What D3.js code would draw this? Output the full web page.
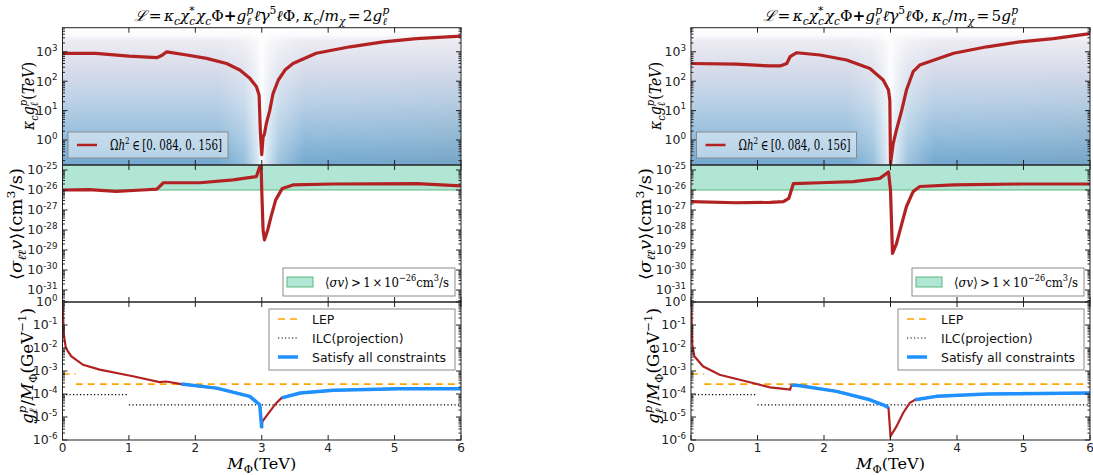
<!DOCTYPE html>
<html><head><meta charset="utf-8">
<script src="https://cdn.jsdelivr.net/npm/d3@7"></script>
<style>body{margin:0;background:#fff}svg{display:block}</style>
</head><body>
<svg id="chart" width="1093" height="475"></svg>
<script>
// ---------------- DATA ----------------
const xTicks = [0, 1, 2, 3, 4, 5, 6];
const topTickExp = [0, 1, 2, 3];
const midTickExp = [-25, -26, -27, -28, -29, -30, -31];
const botTickExp = [0, -1, -2, -3, -4, -5, -6];
const titles = ["2", "5"]; // kappa_c / m_chi = N g_l^p

// Left column (kappa_c/m_chi = 2 g)  [M_Phi (TeV), value]
const relicCouplingL = [[0,890],[0.5,890],[1.0,710],[1.42,630],[1.5,760],[1.57,1000],[1.87,780],[2.17,600],[2.47,400],[2.67,240],[2.82,126],[2.92,65],[2.96,34],[2.98,1.7],[3.0,0.32],[3.02,1.26],[3.04,1.6],[3.07,3.7],[3.12,10],[3.17,38],[3.25,110],[3.35,240],[3.47,400],[3.82,890],[4.33,1480],[4.83,2190],[5.33,2820],[6.0,3390]];
const sigmaVL = [[0,1.0e-26],[0.4,1.05e-26],[0.81,0.85e-26],[1.2,1.0e-26],[1.42,1.1e-26],[1.52,2.3e-26],[2.07,2.3e-26],[2.57,3.2e-26],[2.92,4.7e-26],[2.97,1.5e-25],[2.99,1.9e-25],[3.0,1e-26],[3.02,1e-28],[3.04,3.2e-29],[3.09,1e-28],[3.14,4.7e-28],[3.21,3.2e-27],[3.31,1.2e-26],[3.47,1.8e-26],[4.07,2.0e-26],[5.33,2.1e-26],[6.0,1.6e-26]];
const gOverML = [[0.002,0.95],[0.01,0.2],[0.02,0.038],[0.05,0.01],[0.13,4.4e-3],[0.31,1.86e-3],[0.56,1.15e-3],[1.06,5.9e-4],[1.46,3.3e-4],[1.56,3.5e-4],[1.79,2.7e-4],[2.32,1.8e-4],[2.82,7.9e-5],[2.97,3.4e-5],[3.0,3.3e-6],[3.01,6.5e-6],[3.12,1.7e-5],[3.22,4.1e-5],[3.3,6.8e-5],[3.58,1.1e-4],[4.08,1.45e-4],[5.08,1.7e-4],[6.0,1.7e-4]];
const allowedRangesL = [[1.79,3.0],[3.3,6.0]];

// Right column (kappa_c/m_chi = 5 g)
const relicCouplingR = [[0,400],[0.68,380],[1.19,330],[1.34,330],[1.44,400],[1.49,680],[1.59,930],[1.94,780],[2.34,525],[2.69,270],[2.89,110],[2.97,50],[2.99,22],[3.0,0.15],[3.04,0.76],[3.09,2.2],[3.17,10.5],[3.24,50],[3.34,210],[3.44,355],[3.95,890],[4.45,1480],[4.95,2190],[5.45,2820],[6.0,4170]];
const sigmaVR = [[0,2.6e-27],[0.68,2.3e-27],[1.19,2.4e-27],[1.39,2.6e-27],[1.47,3.8e-27],[1.54,2.1e-26],[1.94,2.3e-26],[2.44,2.6e-26],[2.84,3.8e-26],[2.97,8e-26],[3.0,1e-26],[3.03,6.8e-30],[3.09,2.1e-29],[3.17,2.1e-28],[3.24,1.5e-27],[3.34,8.3e-27],[3.44,1.5e-26],[3.95,1.8e-26],[4.95,2.0e-26],[6.0,2.0e-26]];
const gOverMR = [[0.002,0.95],[0.01,0.15],[0.02,0.014],[0.05,4.4e-3],[0.18,1.6e-3],[0.43,6.9e-4],[0.93,3.0e-4],[1.19,1.95e-4],[1.49,1.55e-4],[1.51,2.4e-4],[1.59,2.4e-4],[2.19,1.3e-4],[2.69,5.6e-5],[2.89,3.4e-5],[2.97,2.5e-5],[3.0,1.45e-6],[3.09,3.9e-6],[3.19,1.5e-5],[3.29,4.1e-5],[3.37,5.6e-5],[3.69,7.9e-5],[4.45,1.0e-4],[6.0,1.1e-4]];
const allowedRangesR = [[1.51,2.97],[3.37,6.0]];

// Bounds [from M, to M, value]
const lepBound = [[0,0.2,7.4e-4],[0.2,6,2.7e-4]];
const ilcBound = [[0,1,9.3e-5],[1,6,3.4e-5]];
const sigmaThreshold = 1e-26;

// ---------------- DRAW ----------------
const SERIF = "'DejaVu Serif','Liberation Serif',serif";
const SANS = "'DejaVu Sans',sans-serif";
const svg = d3.select("#chart");
const defs = svg.append("defs");

function mathText(parent, parts, o) {
  const size = o.size, fam = o.family || SERIF;
  const outer = parent.append("g");
  const g = outer.append("g");
  let cx = 0, stackW = null;
  parts.forEach(p => {
    if (typeof p === "number") { cx += p * size; return; }
    const [t, k = ""] = p;
    const sub = k.includes("_"), sup = k.includes("^");
    const fs = (sub || sup) ? size * 0.7 : size;
    const dy = sub ? size * 0.24 : sup ? -size * 0.44 : 0;
    const el = g.append("text").attr("x", cx).attr("y", dy)
      .attr("font-size", fs).attr("font-family", k.includes("f") ? SANS : fam)
      .attr("font-style", k.includes("i") ? "italic" : "normal")
      .attr("font-weight", k.includes("b") ? "bold" : "normal")
      .attr("fill", o.fill || "#000").text(t);
    const w = el.node().getComputedTextLength();
    if (k.includes("&")) { stackW = w; }
    else { cx += (stackW !== null ? Math.max(w, stackW) : w); stackW = null; }
  });
  const anchor = o.anchor || "middle";
  const sx = o.fitW ? o.fitW / cx : 1;
  const tw = cx * sx;
  const shift = anchor === "middle" ? -tw / 2 : anchor === "end" ? -tw : 0;
  g.attr("transform", `translate(${shift},0) scale(${sx},1)`);
  outer.attr("transform", `translate(${o.x},${o.y}) rotate(${o.rotate || 0})`);
  return tw;
}

// gradients
const gv = defs.append("linearGradient").attr("id", "bgV").attr("x1", 0).attr("y1", 0).attr("x2", 0).attr("y2", 1);
[[0,"#ffffff"],[0.05,"#fcfbfd"],[0.1,"#ecebf3"],[0.3,"#d8dcea"],[0.55,"#b9d0e6"],[0.8,"#93bddc"],[1,"#72a8d0"]]
  .forEach(([o,c]) => gv.append("stop").attr("offset", o).attr("stop-color", c));
const gs = defs.append("linearGradient").attr("id", "bgS").attr("x1", 0).attr("y1", 0).attr("x2", 1).attr("y2", 0);
[[0,0],[0.3,0.25],[0.45,0.7],[0.5,0.97],[0.56,0.7],[0.7,0.3],[1,0]]
  .forEach(([o,a]) => gs.append("stop").attr("offset", o).attr("stop-color", "#fff").attr("stop-opacity", a));
const gd = defs.append("linearGradient").attr("id", "bgD").attr("x1", 0).attr("y1", 0).attr("x2", 1).attr("y2", 0);
[[0,0],[0.5,0.06],[1,0.2]].forEach(([o,a]) => gd.append("stop").attr("offset", o).attr("stop-color", "#8a98a6").attr("stop-opacity", a));
const gd2 = defs.append("linearGradient").attr("id", "bgD2").attr("x1", 0).attr("y1", 0).attr("x2", 0).attr("y2", 1);
[[0,0],[0.3,0],[1,1]].forEach(([o,a]) => gd2.append("stop").attr("offset", o).attr("stop-color", "#fff").attr("stop-opacity", a));
const mk = defs.append("mask").attr("id", "maskD").attr("maskContentUnits", "objectBoundingBox");
mk.append("rect").attr("width", 1).attr("height", 1).attr("fill", "url(#bgD2)");

const PY = { top: [27.7, 165], mid: [165, 302], bot: [302, 440] };

const cols = [
  { x0: 62.5, x1: 461, relic: relicCouplingL, sig: sigmaVL, gm: gOverML, ranges: allowedRangesL, title: titles[0], labX: [34, 22, 33] },
  { x0: 691, x1: 1090, relic: relicCouplingR, sig: sigmaVR, gm: gOverMR, ranges: allowedRangesR, title: titles[1], labX: [661, 651, 659] }
];

cols.forEach((c, ci) => {
  const x = d3.scaleLinear().domain([0, 6]).range([c.x0, c.x1]);
  const yTop = d3.scaleLog().domain([10 ** -0.85, 10 ** 3.82]).range([PY.top[1], PY.top[0]]);
  const yMid = d3.scaleLog().domain([10 ** -31.6, 10 ** -24.75]).range([PY.mid[1], PY.mid[0]]);
  const yBot = d3.scaleLog().domain([1e-6, 1]).range([PY.bot[1], PY.bot[0]]);
  const W = c.x1 - c.x0;

  ["top", "mid", "bot"].forEach(k => {
    defs.append("clipPath").attr("id", `clip${ci}${k}`).append("rect")
      .attr("x", c.x0).attr("y", PY[k][0]).attr("width", W).attr("height", PY[k][1] - PY[k][0]);
  });

  // ---- top panel background (relic density map) ----
  const gT = svg.append("g").attr("clip-path", `url(#clip${ci}top)`);
  gT.append("rect").attr("x", c.x0).attr("y", PY.top[0]).attr("width", W).attr("height", PY.top[1] - PY.top[0]).attr("fill", "url(#bgV)");
  gT.append("rect").attr("x", x(3.3)).attr("y", PY.top[0]).attr("width", x(6) - x(3.3)).attr("height", PY.top[1] - PY.top[0]).attr("fill", "url(#bgD)").attr("mask", "url(#maskD)");
  gT.append("rect").attr("x", x(2.35)).attr("y", PY.top[0]).attr("width", x(3.65) - x(2.35)).attr("height", PY.top[1] - PY.top[0]).attr("fill", "url(#bgS)");

  const lineTop = d3.line().x(d => x(d[0])).y(d => yTop(d[1]));
  gT.append("path").datum(c.relic).attr("d", lineTop).attr("fill", "none").attr("stroke", "#b22222").attr("stroke-width", 3.2).attr("stroke-linejoin", "round");

  // ---- middle panel ----
  const gM = svg.append("g").attr("clip-path", `url(#clip${ci}mid)`);
  gM.append("rect").attr("x", c.x0).attr("y", yMid(yMid.domain()[1])).attr("width", W)
    .attr("height", yMid(sigmaThreshold) - yMid(yMid.domain()[1])).attr("fill", "#b2e6d4");
  gM.append("line").attr("x1", c.x0).attr("x2", c.x1).attr("y1", yMid(sigmaThreshold)).attr("y2", yMid(sigmaThreshold)).attr("stroke", "#5cb87c").attr("stroke-width", 1);
  const lineMid = d3.line().x(d => x(d[0])).y(d => yMid(d[1]));
  gM.append("path").datum(c.sig).attr("d", lineMid).attr("fill", "none").attr("stroke", "#b22222").attr("stroke-width", 3.2).attr("stroke-linejoin", "round");

  // ---- bottom panel ----
  const gB = svg.append("g").attr("clip-path", `url(#clip${ci}bot)`);
  lepBound.forEach(s => gB.append("line").attr("x1", x(s[0])).attr("x2", x(s[1])).attr("y1", yBot(s[2])).attr("y2", yBot(s[2]))
    .attr("stroke", "#ffa500").attr("stroke-width", 1.6).attr("stroke-dasharray", "7,5"));
  ilcBound.forEach(s => gB.append("line").attr("x1", x(s[0])).attr("x2", x(s[1])).attr("y1", yBot(s[2])).attr("y2", yBot(s[2]))
    .attr("stroke", "#000").attr("stroke-width", 1.2).attr("stroke-dasharray", "1.2,2.3"));
  const lineBot = d3.line().x(d => x(d[0])).y(d => yBot(d[1]));
  gB.append("path").datum(c.gm).attr("d", lineBot).attr("fill", "none").attr("stroke", "#b22222").attr("stroke-width", 2.2);
  c.ranges.forEach(r => {
    const seg = c.gm.filter(d => d[0] >= r[0] - 1e-9 && d[0] <= r[1] + 1e-9);
    gB.append("path").datum(seg).attr("d", lineBot).attr("fill", "none").attr("stroke", "#1e90ff").attr("stroke-width", 3.5).attr("stroke-linejoin", "round");
  });

  // ---- frames and ticks ----
  const axesG = svg.append("g");
  [["top", yTop], ["mid", yMid], ["bot", yBot]].forEach(([k, y]) => {
    const [ya, yb] = PY[k];
    axesG.append("rect").attr("x", c.x0).attr("y", ya).attr("width", W).attr("height", yb - ya)
      .attr("fill", "none").attr("stroke", "#222").attr("stroke-width", 1);
    xTicks.forEach(t => {
      axesG.append("line").attr("x1", x(t)).attr("x2", x(t)).attr("y1", yb).attr("y2", yb - 5).attr("stroke", "#222");
      axesG.append("line").attr("x1", x(t)).attr("x2", x(t)).attr("y1", ya).attr("y2", ya + 5).attr("stroke", "#222");
    });
    const [d0, d1] = y.domain();
    const e0 = Math.floor(Math.log10(d0)), e1 = Math.ceil(Math.log10(d1));
    for (let e = e0; e <= e1; e++) {
      for (let m = 1; m <= 9; m++) {
        const v = m * 10 ** e;
        if (v < d0 * 0.9999 || v > d1 * 1.0001) continue;
        const len = m === 1 ? 5 : 2.5;
        const py = y(v);
        axesG.append("line").attr("x1", c.x0).attr("x2", c.x0 + len).attr("y1", py).attr("y2", py).attr("stroke", "#222");
        axesG.append("line").attr("x1", c.x1).attr("x2", c.x1 - len).attr("y1", py).attr("y2", py).attr("stroke", "#222");
      }
    }
  });

  const tickLab = (y, exps) => exps.forEach(e => {
    mathText(svg, [["10", "f"], [String(e), "f^"]], { x: c.x0 - 5, y: y(10 ** e) + 4.3, size: 12.5, anchor: "end", fill: "#222" });
  });
  tickLab(yTop, topTickExp);
  tickLab(yMid, midTickExp);
  tickLab(yBot, botTickExp);
  xTicks.forEach(t => svg.append("text").attr("x", x(t)).attr("y", 452).attr("text-anchor", "middle")
    .attr("font-family", SANS).attr("font-size", 12).attr("fill", "#222").text(t));

  // axis labels
  const cxm = (c.x0 + c.x1) / 2;
  mathText(svg, [["M", "i"], ["Φ", "_"], ["(TeV)", ""]], { x: cxm, y: 469, size: 15, fitW: 69 });
  mathText(svg, [["κ", "i"], ["c", "i_"], ["g", "i"], ["p", "i^&"], ["ℓ", "i_"], ["(", ""], ["TeV", "i"], [")", ""]],
    { x: c.labX[0], y: 96, size: 16, rotate: -90, fitW: 68 });
  mathText(svg, [["⟨", ""], ["σ", "i"], ["ℓ̄ℓ", "i_"], ["v", "i"], ["⟩", ""], ["(cm", ""], ["3", "^"], ["/s)", ""]],
    { x: c.labX[1], y: 224, size: 16, rotate: -90, fitW: 112 });
  mathText(svg, [["g", "i"], ["p", "i^&"], ["ℓ", "i_"], ["/", ""], ["M", "i"], ["Φ", "_"], ["(GeV", ""], ["−1", "^"], [")", ""]],
    { x: c.labX[2], y: 366, size: 16, rotate: -90, fitW: 116 });

  // title
  mathText(svg, [["ℒ", "i"], 0.15, ["=", ""], 0.15, ["κ", "i"], ["c", "i_"], ["χ", "i"], ["*", "^&"], ["c", "i_"], 0.05, ["χ", "i"], ["c", "i_"], ["Φ", ""],
    ["+", "b"], ["g", "i"], ["p", "i^&"], ["ℓ", "i_"], 0.05, ["ℓ̄", "i"], ["γ", "i"], ["5", "^"], ["ℓ", "i"], ["Φ", ""], [",", ""], 0.2,
    ["κ", "i"], ["c", "i_"], ["/", ""], ["m", "i"], ["χ", "i_"], 0.15, ["=", ""], 0.15, [c.title, ""], ["g", "i"], ["p", "i^&"], ["ℓ", "i_"]],
    { x: cxm, y: 21, size: 15, fitW: 255 });

  // ---- legends ----
  const lx = c.x0 + 5.5;
  svg.append("rect").attr("x", lx).attr("y", 132).attr("width", 160).attr("height", 26)
    .attr("fill", "#fff").attr("fill-opacity", 0.45).attr("stroke", "#8a8a8a").attr("stroke-width", 1);
  svg.append("line").attr("x1", lx + 9).attr("x2", lx + 29).attr("y1", 145).attr("y2", 145).attr("stroke", "#b22222").attr("stroke-width", 2.5);
  mathText(svg, [["Ω", ""], ["h", "i"], ["2", "^"], 0.25, ["∈", ""], 0.25, ["[0. 084, 0. 156]", ""]], { x: lx + 42, y: 150, size: 14, anchor: "start", fitW: 112 });

  const mx = c.x1 - 6 - 172;
  svg.append("rect").attr("x", mx).attr("y", 268).attr("width", 172).attr("height", 28)
    .attr("fill", "#fff").attr("stroke", "#8a8a8a").attr("stroke-width", 1);
  svg.append("rect").attr("x", mx + 4).attr("y", 277).attr("width", 26).attr("height", 10).attr("fill", "#b2e6d4").attr("stroke", "#5cb87c");
  mathText(svg, [["⟨", ""], ["σv", "i"], ["⟩", ""], 0.2, [">", ""], 0.2, ["1", ""], 0.15, ["×", ""], 0.15, ["10", ""], ["−26", "^"], ["cm", ""], ["3", "^"], ["/s", ""]],
    { x: mx + 42, y: 287, size: 13.5, anchor: "start", fitW: 124 });

  const bx = c.x1 - 6 - 186;
  svg.append("rect").attr("x", bx).attr("y", 309).attr("width", 186).attr("height", 61)
    .attr("fill", "#fff").attr("stroke", "#8a8a8a").attr("stroke-width", 1);
  const items = [
    { y: 319, t: "LEP", st: "#ffa500", w: 1.6, da: "7,5" },
    { y: 338, t: "ILC(projection)", st: "#000", w: 1.2, da: "1.2,2.3" },
    { y: 357, t: "Satisfy all constraints", st: "#1e90ff", w: 3.5, da: null }
  ];
  items.forEach(it => {
    svg.append("line").attr("x1", bx + 9).attr("x2", bx + 29).attr("y1", it.y).attr("y2", it.y)
      .attr("stroke", it.st).attr("stroke-width", it.w).attr("stroke-dasharray", it.da);
    svg.append("text").attr("x", bx + 43).attr("y", it.y + 4.5).attr("font-family", SANS).attr("font-size", 12.5).attr("fill", "#111").text(it.t);
  });
});
</script>
</body></html>
